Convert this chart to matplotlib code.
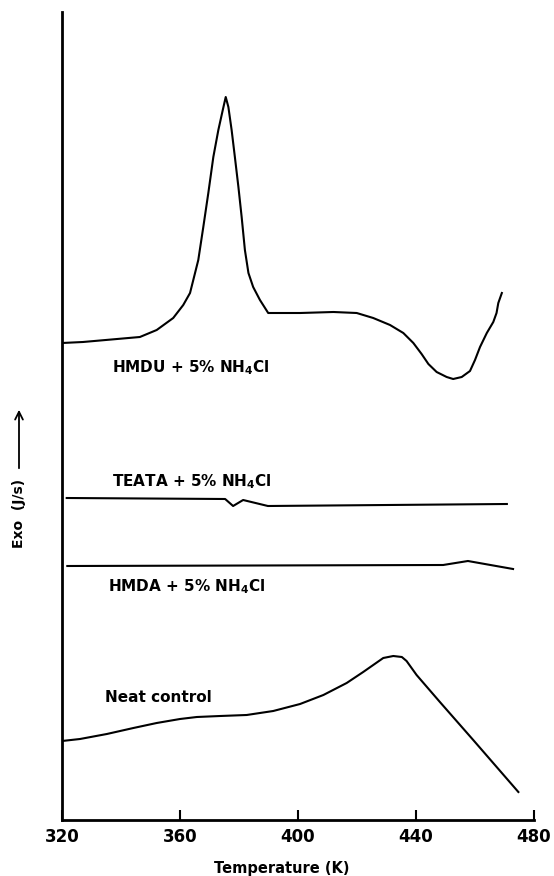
import matplotlib
matplotlib.use("Agg")
import matplotlib.pyplot as plt

# DSC traces, temperature (K) vs heat flow (arbitrary units, offset per sample)
hmdu_T = [320, 327.1, 346.4, 352.1, 357.7, 361.1, 363.4, 365.1, 366.2, 367.9,
          369.6, 371.3, 373.0, 374.5, 375.5, 376.4, 377.5, 378.6, 379.8, 380.9,
          382.0, 383.2, 384.8, 387.1, 389.9, 400.7, 412.0, 419.9, 425.5, 431.2,
          435.7, 439.1, 441.9, 444.2, 447.0, 450.4, 452.6, 455.5, 458.3, 460.0,
          461.7, 464.0, 466.2, 467.3, 467.9, 469.1]
hmdu_q = [47.7, 47.8, 48.3, 49.0, 50.2, 51.5, 52.7, 54.7, 56.0, 59.3,
          62.7, 66.3, 69.0, 71.0, 72.3, 71.3, 69.0, 66.3, 63.3, 60.3,
          57.0, 54.7, 53.3, 52.0, 50.7, 50.7, 50.8, 50.7, 50.2, 49.5,
          48.7, 47.7, 46.6, 45.6, 44.8, 44.3, 44.1, 44.3, 44.9, 46.0,
          47.3, 48.7, 49.8, 50.7, 51.7, 52.7]

teata_T = [321.6, 375.3, 378.0, 381.4, 389.8, 470.8]
teata_q = [32.2, 32.1, 31.4, 32.0, 31.4, 31.6]

hmda_T = [321.8, 449.2, 457.6, 472.9]
hmda_q = [25.4, 25.5, 25.9, 25.1]

neat_T = [320.0, 326.1, 335.2, 344.2, 352.1, 360.0, 365.7, 373.6, 382.6, 391.6,
          400.7, 408.6, 416.5, 422.1, 425.5, 428.9, 432.3, 435.2, 436.8, 440.2,
          448.1, 459.4, 474.7]
neat_q = [7.9, 8.1, 8.6, 9.2, 9.7, 10.1, 10.3, 10.4, 10.5, 10.9,
          11.6, 12.5, 13.7, 14.8, 15.5, 16.2, 16.4, 16.3, 15.9, 14.5,
          11.8, 8.0, 2.8]

x_ticks = [320, 360, 400, 440, 480]

fig = plt.figure(figsize=(5.54, 8.76), dpi=100)
ax = fig.add_axes([62 / 554, 56 / 876, 472 / 554, 808 / 876])

lw = 1.5
for T, q in [(hmdu_T, hmdu_q), (teata_T, teata_q), (hmda_T, hmda_q), (neat_T, neat_q)]:
    ax.plot(T, q, color="black", lw=lw, solid_joinstyle="round")

lab = dict(fontsize=11, fontweight="bold", va="center", ha="left")
ax.text(336.9, 45.2, r"HMDU + 5% NH$_\mathbf{4}$Cl", **lab)
ax.text(336.9, 33.8, r"TEATA + 5% NH$_\mathbf{4}$Cl", **lab)
ax.text(335.6, 23.3, r"HMDA + 5% NH$_\mathbf{4}$Cl", **lab)
ax.text(334.6, 12.3, "Neat control", **lab)

ax.set_xlim(320, 480)
ax.set_ylim(0, 80.8)
ax.set_xticks(x_ticks)
ax.set_xticklabels([str(t) for t in x_ticks], fontsize=12, fontweight="bold")
ax.set_yticks([])
ax.tick_params(axis="x", direction="in", length=7, width=1.5, pad=6)

for side in ("top", "right"):
    ax.spines[side].set_visible(False)
for side in ("left", "bottom"):
    ax.spines[side].set_linewidth(2)

fig.text(282 / 554, 1 - 868 / 876, "Temperature (K)", fontsize=10.5,
         fontweight="bold", ha="center", va="center")

# rotated y label with an upward arrow
fig.text(19 / 554, 1 - 513 / 876, "Exo  (J/s)", fontsize=10, fontweight="bold",
         rotation=90, ha="center", va="center")
fig.add_artist(matplotlib.patches.FancyArrowPatch(
    (19 / 554, 1 - 471 / 876), (19 / 554, 1 - 407 / 876),
    transform=fig.transFigure, arrowstyle="->", mutation_scale=14,
    lw=1.3, color="black"))

fig.savefig("out.png", dpi=100)
